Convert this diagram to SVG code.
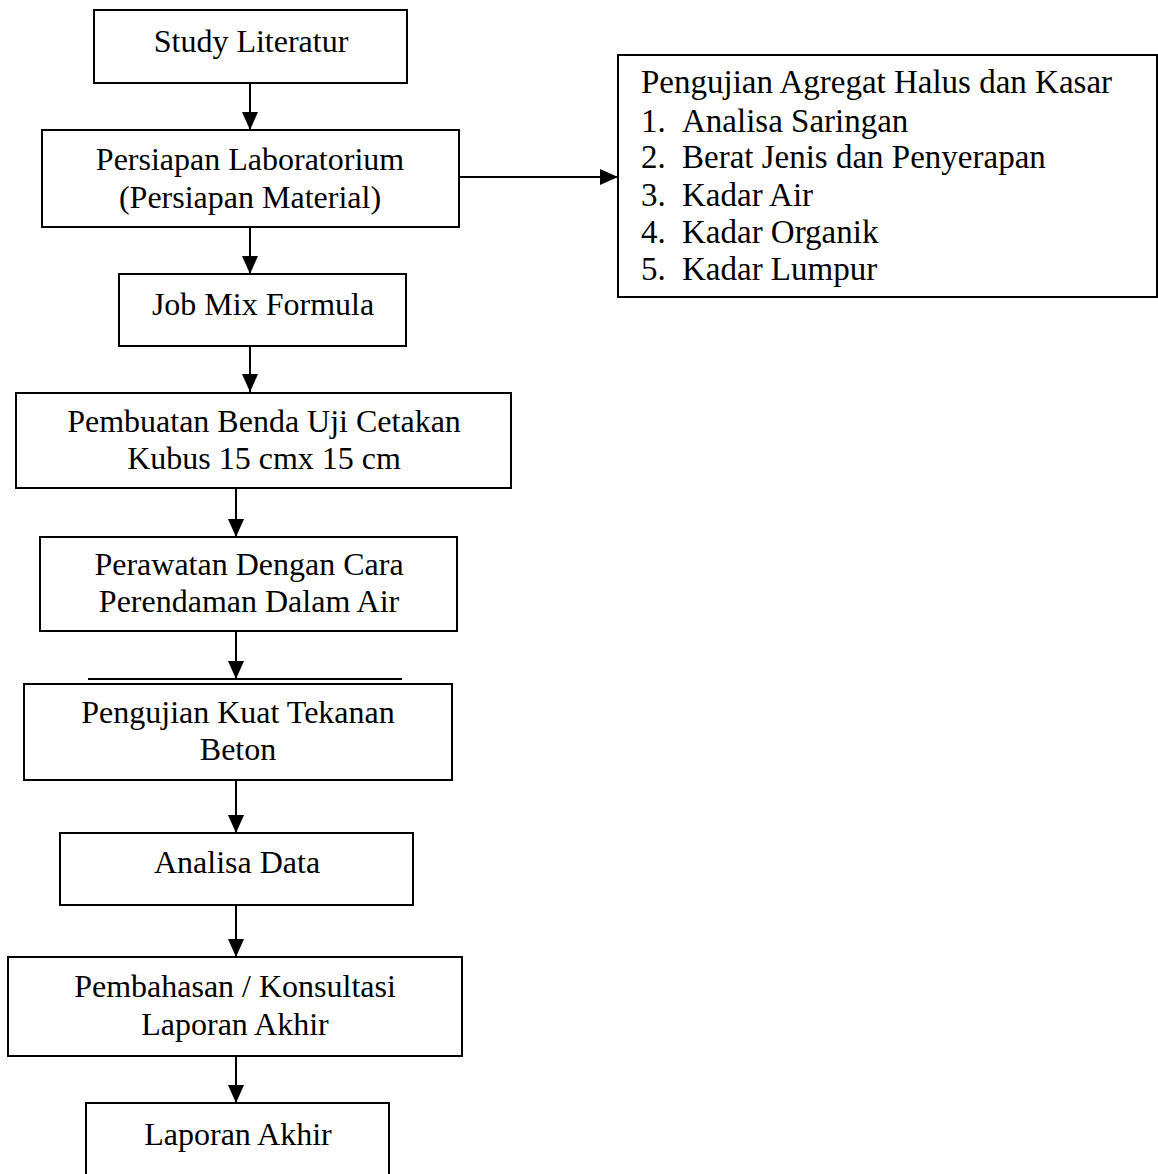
<svg xmlns="http://www.w3.org/2000/svg" width="1158" height="1174" viewBox="0 0 1158 1174">
<style>
.box{fill:#fff;stroke:#000;stroke-width:2}
.t{font-family:"Liberation Serif","Times New Roman",serif;font-size:32px;fill:#000;text-anchor:middle}
.l{font-family:"Liberation Serif","Times New Roman",serif;font-size:33px;fill:#000}
.c{stroke:#000;stroke-width:2;fill:none}
</style>
<defs>
<marker id="ah" markerUnits="userSpaceOnUse" markerWidth="18" markerHeight="18" viewBox="0 0 18 18" refX="18" refY="9" orient="auto">
<path d="M0,1 L18,9 L0,17 Z" fill="#000"/>
</marker>
</defs>
<rect width="1158" height="1174" fill="#fff"/>
<g id="connectors">
<line class="c" x1="250" y1="83" x2="250" y2="130" marker-end="url(#ah)"/>
<line class="c" x1="250" y1="227" x2="250" y2="274" marker-end="url(#ah)"/>
<line class="c" x1="250" y1="346" x2="250" y2="392" marker-end="url(#ah)"/>
<line class="c" x1="459" y1="177" x2="618" y2="177" marker-end="url(#ah)"/>
<line class="c" x1="236" y1="488" x2="236" y2="537" marker-end="url(#ah)"/>
<line class="c" x1="236" y1="631" x2="236" y2="679" marker-end="url(#ah)"/>
<line class="c" x1="88" y1="679" x2="402" y2="679"/>
<line class="c" x1="236" y1="780" x2="236" y2="833" marker-end="url(#ah)"/>
<line class="c" x1="236" y1="905" x2="236" y2="957" marker-end="url(#ah)"/>
<line class="c" x1="236" y1="1056" x2="236" y2="1103" marker-end="url(#ah)"/>
</g>
<g id="study">
<rect class="box" x="94" y="10" width="313" height="73"/>
<text class="t" x="251" y="52">Study Literatur</text>
</g>
<g id="persiapan">
<rect class="box" x="42" y="130" width="417" height="97"/>
<text class="t" x="250" y="170">Persiapan Laboratorium</text>
<text class="t" x="250" y="208">(Persiapan Material)</text>
</g>
<g id="pengujian-agregat">
<rect class="box" x="618" y="55" width="539" height="242"/>
<text class="l" x="641" y="93">Pengujian Agregat Halus dan Kasar</text>
<text class="l" x="641" y="132">1.</text><text class="l" x="682" y="132">Analisa Saringan</text>
<text class="l" x="641" y="168">2.</text><text class="l" x="682" y="168">Berat Jenis dan Penyerapan</text>
<text class="l" x="641" y="206">3.</text><text class="l" x="682" y="206">Kadar Air</text>
<text class="l" x="641" y="243">4.</text><text class="l" x="682" y="243">Kadar Organik</text>
<text class="l" x="641" y="280">5.</text><text class="l" x="682" y="280">Kadar Lumpur</text>
</g>
<g id="jobmix">
<rect class="box" x="119" y="274" width="287" height="72"/>
<text class="t" x="263" y="315">Job Mix Formula</text>
</g>
<g id="pembuatan">
<rect class="box" x="16" y="393" width="495" height="95"/>
<text class="t" x="264" y="432">Pembuatan Benda Uji Cetakan</text>
<text class="t" x="264" y="469">Kubus 15 cmx 15 cm</text>
</g>
<g id="perawatan">
<rect class="box" x="40" y="537" width="417" height="94"/>
<text class="t" x="249" y="575">Perawatan Dengan Cara</text>
<text class="t" x="249" y="612">Perendaman Dalam Air</text>
</g>
<g id="pengujian-kuat">
<rect class="box" x="24" y="684" width="428" height="96"/>
<text class="t" x="238" y="723">Pengujian Kuat Tekanan</text>
<text class="t" x="238" y="760">Beton</text>
</g>
<g id="analisa">
<rect class="box" x="60" y="833" width="353" height="72"/>
<text class="t" x="237" y="873">Analisa Data</text>
</g>
<g id="pembahasan">
<rect class="box" x="8" y="957" width="454" height="99"/>
<text class="t" x="235" y="997">Pembahasan / Konsultasi</text>
<text class="t" x="235" y="1035">Laporan Akhir</text>
</g>
<g id="laporan">
<rect class="box" x="86" y="1103" width="303" height="80"/>
<text class="t" x="238" y="1145">Laporan Akhir</text>
</g>
</svg>
